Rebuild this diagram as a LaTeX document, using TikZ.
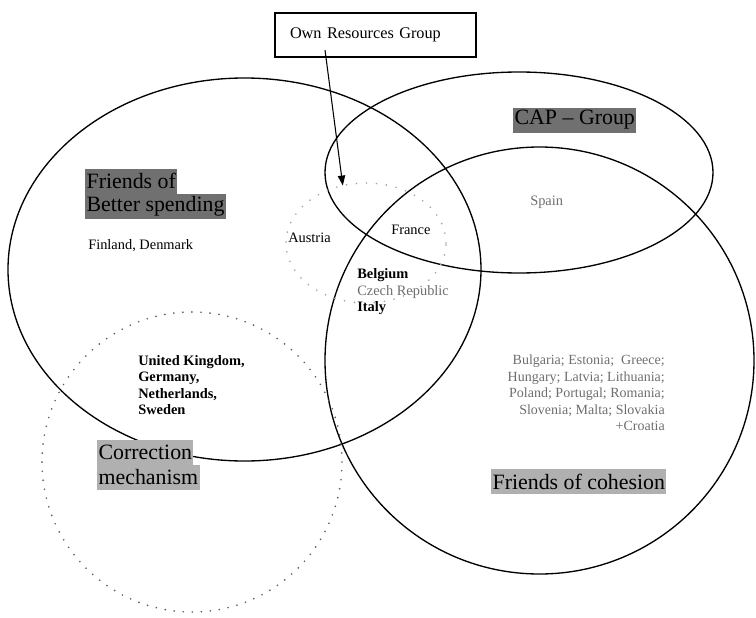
\documentclass[tikz,border=0pt]{standalone}
\usepackage{fontspec}
\setmainfont{Liberation Serif}
\usetikzlibrary{shapes.geometric,arrows.meta,positioning}
\definecolor{tagdark}{RGB}{112,112,112}
\definecolor{taglight}{RGB}{176,176,176}
\definecolor{txtgrey}{RGB}{110,110,110}
\definecolor{dotgrey}{RGB}{95,95,95}
\definecolor{dotlight}{RGB}{165,165,165}

\begin{document}
\begin{tikzpicture}[x=0.75pt, y=-0.75pt,
    venn/.style={ellipse, draw=black, line width=1pt, inner sep=0pt, outer sep=0pt},
    dotring/.style={ellipse, draw=dotgrey, line width=1.4pt, line cap=round,
                    dash pattern=on 0pt off 6.8pt, inner sep=0pt, outer sep=0pt},
    tagbox/.style={font=\fontsize{16.4}{18.8}\selectfont, inner xsep=1pt, inner ysep=0pt,
                   minimum height=18.75pt, anchor=west},
    country/.style={font=\fontsize{10.8}{12.4}\selectfont, inner sep=0pt},
    >={Triangle[length=7.5pt, width=5.5pt]},
]
    \useasboundingbox (0,0) rectangle (756,617);

    % Groups
    \node[venn, minimum width=354.75pt, minimum height=287.25pt] (spend) at (244.5,269.5) {};
    \node[venn, minimum width=291pt, minimum height=150.75pt] (cap) at (519,172.5) {};
    \node[venn, minimum width=321.75pt, minimum height=320.25pt] (cohesion) at (539.5,360.5) {};
    \node[dotring, draw=dotlight, minimum width=120pt, minimum height=90pt,
          dash pattern=on 0pt off 7.5pt] (ownres) at (366,243) {};
    \node[dotring, minimum width=225pt, minimum height=225pt] (correction) at (192,462) {};

    % Own resources box and arrow
    \node[draw=black, line width=1pt, minimum width=150.75pt, minimum height=33pt,
          text width=128.25pt, inner xsep=11.25pt, align=left,
          font=\fontsize{12.2}{13.5}\selectfont] (orbox) at (375.5,35) {Own Resources Group\\[3pt]};
    \coordinate (orfrom) at (325,50);
    \draw[->, line width=0.8pt] (orfrom) -- (ownres.112);

    % Group names
    \node[tagbox, fill=tagdark] (spend1) at (85,181) {Friends of};
    \node[tagbox, fill=tagdark] (spend2) at (85,206) {Better spending};
    \node[tagbox, fill=tagdark] (capname) at (513,120) {CAP -- Group};
    \node[tagbox, fill=taglight] (corr1) at (97,452) {Correction};
    \node[tagbox, fill=taglight] (corr2) at (97,477.5) {mechanism};
    \node[tagbox, fill=taglight] (cohname) at (491,481.5) {Friends of cohesion};

    % Countries
    \node[country, anchor=west] (finland) at (88,246) {Finland, Denmark};
    \node[country, anchor=west] (austria) at (288,238) {Austria};
    \node[country, anchor=west] (france) at (391,230) {France};
    \node[country, anchor=west, text=txtgrey] (spain) at (530,202) {Spain};
    \node[country, anchor=west, align=left] (belgium) at (357,292)
          {\textbf{Belgium}\\\textcolor{txtgrey}{Czech Republic}\\\textbf{Italy}};
    \node[country, anchor=west, align=left, font=\fontsize{10.8}{12.4}\selectfont\bfseries] (uk) at (138,385)
          {United Kingdom,\\Germany,\\Netherlands,\\Sweden};
    \node[country, anchor=east, align=right, text=txtgrey, font=\fontsize{10.5}{12.4}\selectfont] (east) at (665,393)
          {Bulgaria; Estonia;~~Greece;\\Hungary; Latvia; Lithuania;\\Poland; Portugal; Romania;\\Slovenia; Malta; Slovakia\\+Croatia};
\end{tikzpicture}
\end{document}
